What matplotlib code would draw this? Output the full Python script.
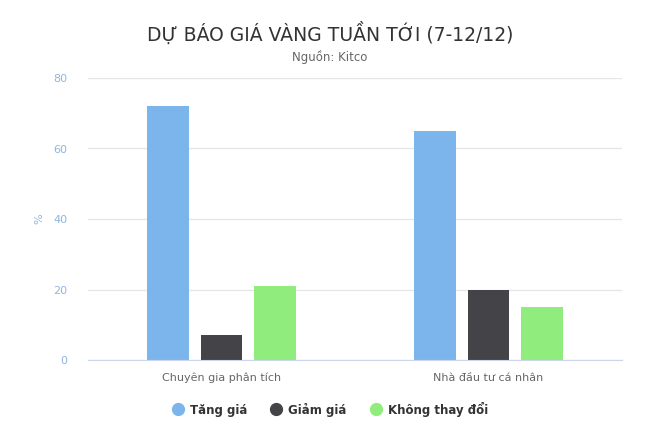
import matplotlib
matplotlib.use("Agg")
import matplotlib.pyplot as plt
import numpy as np
from matplotlib.lines import Line2D

plt.rcParams['font.family'] = ['DejaVu Sans']

categories = ["Chuyên gia phân tích", "Nhà đầu tư cá nhân"]
series_names = ["Tăng giá", "Giảm giá", "Không thay đổi"]
tang_gia = [72, 65]
giam_gia = [7, 20]
khong_doi = [21, 15]
colors = ["#7cb5ec", "#434348", "#90ed7d"]
yticks = [0, 20, 40, 60, 80]

fig = plt.figure(figsize=(6.6, 4.44), dpi=100)
ax = fig.add_axes([88/660, 1-360/444, (622-88)/660, (360-78)/444])

x = np.arange(len(categories))
w = 0.157
off = 0.2
for i, (vals, c) in enumerate(zip([tang_gia, giam_gia, khong_doi], colors)):
    ax.bar(x + (i-1)*off, vals, width=w, color=c, zorder=3)

ax.set_xlim(-0.5, 1.5)
ax.set_ylim(0, 80)
ax.set_yticks(yticks)
ax.set_xticks(x)
ax.set_xticklabels(categories, fontsize=8, color="#666666")
ax.tick_params(axis='x', length=0, pad=9)
ax.tick_params(axis='y', length=0, pad=15, labelsize=8, labelcolor="#8fb6df")
ax.grid(axis='y', color="#e6e6e6", linewidth=1, zorder=0)
for s in ['top', 'right', 'left']:
    ax.spines[s].set_visible(False)
ax.spines['bottom'].set_color("#ccd6eb")
ax.spines['bottom'].set_zorder(4)
ax.set_ylabel("%", color="#8fb6df", fontsize=8, labelpad=6)

fig.text(0.5, 1-33/444, "DỰ BÁO GIÁ VÀNG TUẦN TỚI (7-12/12)", ha='center', va='center',
         fontsize=13.5, color="#333333")
fig.text(0.5, 1-57/444, "Nguồn: Kitco", ha='center', va='center', fontsize=8.5, color="#666666")

handles = [Line2D([0], [0], marker='o', linestyle='none', markersize=8.5,
                  markerfacecolor=c, markeredgecolor=c) for c in colors]
leg = fig.legend(handles, series_names, loc='center', bbox_to_anchor=(0.5, 1-409/444),
                 ncol=3, frameon=False, handletextpad=0.5, columnspacing=2.0,
                 handlelength=1.0, prop={'weight': 'bold', 'size': 8.5})
for t in leg.get_texts():
    t.set_color("#333333")

fig.savefig("out.png", dpi=100, facecolor="white")
